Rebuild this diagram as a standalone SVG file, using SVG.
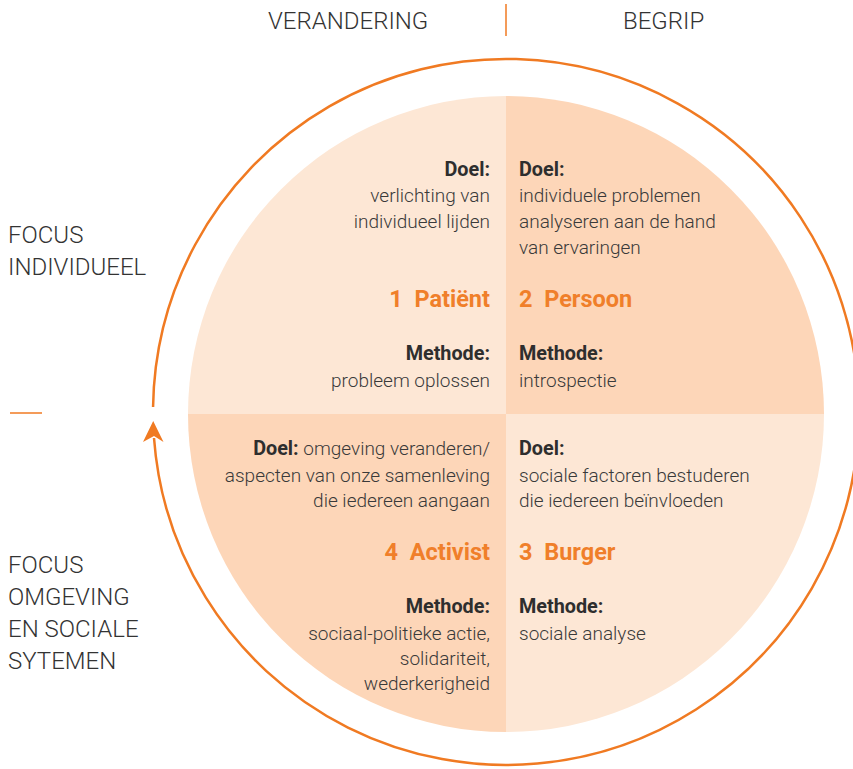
<svg xmlns="http://www.w3.org/2000/svg" width="853" height="769" viewBox="0 0 853 769">
<style>
.t{font-family:Roboto,"Liberation Sans",sans-serif;font-weight:300;fill:#3a3a3a;font-size:19px}
.b{font-weight:700;fill:#2e2e2e;font-size:19.8px}
.h{font-family:Roboto,"Liberation Sans",sans-serif;font-weight:300;fill:#333;font-size:24px}
.ti{font-family:Roboto,"Liberation Sans",sans-serif;font-weight:700;fill:#f07f2a;font-size:23.5px}
.r{text-anchor:end}
.light{fill:#fde7d5}
.dark{fill:#fdd6b8}
.ring{fill:none;stroke:#f07a22;stroke-width:2.5}
.tick{stroke:#f07a22;stroke-width:1.5}
</style>
<rect width="853" height="769" fill="#fff"/>
<g id="headers">
<text class="h" x="268" y="29">VERANDERING</text>
<text class="h" x="623" y="29">BEGRIP</text>
<line class="tick" x1="506" y1="4" x2="506" y2="36"/>
<text class="h" x="8" y="243">FOCUS</text>
<text class="h" x="8" y="275">INDIVIDUEEL</text>
<line class="tick" x1="10" y1="413" x2="42" y2="413"/>
<text class="h" x="8" y="573">FOCUS</text>
<text class="h" x="8" y="605">OMGEVING</text>
<text class="h" x="8" y="637">EN SOCIALE</text>
<text class="h" x="8" y="669">SYTEMEN</text>
</g>
<g id="connectors">
<path class="ring" d="M154,438 A353,353 0 1 0 153.07,407"/>
<path d="M153.2,421 L163.5,442 L154,436 L143,442 Z" fill="#f07a22"/>
</g>
<g id="q1-patient">
<path class="light" d="M506,414 L188,414 A318,318 0 0 1 506,96 Z"/>
<text class="t b r" x="490" y="176">Doel:</text>
<text class="t r" x="490" y="202">verlichting van</text>
<text class="t r" x="490" y="228">individueel lijden</text>
<text class="ti r" x="490" y="307" xml:space="preserve">1  Patiënt</text>
<text class="t b r" x="490" y="360">Methode:</text>
<text class="t r" x="490" y="387">probleem oplossen</text>
</g>
<g id="q2-persoon">
<path class="dark" d="M506,414 L506,96 A318,318 0 0 1 824,414 Z"/>
<text class="t b" x="519" y="176">Doel:</text>
<text class="t" x="519" y="202">individuele problemen</text>
<text class="t" x="519" y="228">analyseren aan de hand</text>
<text class="t" x="519" y="254">van ervaringen</text>
<text class="ti" x="519" y="307" xml:space="preserve">2  Persoon</text>
<text class="t b" x="519" y="360">Methode:</text>
<text class="t" x="519" y="387">introspectie</text>
</g>
<g id="q3-burger">
<path class="light" d="M506,414 L824,414 A318,318 0 0 1 506,732 Z"/>
<text class="t b" x="519" y="455">Doel:</text>
<text class="t" x="519" y="482">sociale factoren bestuderen</text>
<text class="t" x="519" y="507">die iedereen beïnvloeden</text>
<text class="ti" x="519" y="560" xml:space="preserve">3  Burger</text>
<text class="t b" x="519" y="613">Methode:</text>
<text class="t" x="519" y="640">sociale analyse</text>
</g>
<g id="q4-activist">
<path class="dark" d="M506,414 L506,732 A318,318 0 0 1 188,414 Z"/>
<text class="t r" x="490" y="455"><tspan class="b">Doel:</tspan> omgeving veranderen/</text>
<text class="t r" x="490" y="482">aspecten van onze samenleving</text>
<text class="t r" x="490" y="507">die iedereen aangaan</text>
<text class="ti r" x="490" y="560" xml:space="preserve">4  Activist</text>
<text class="t b r" x="490" y="613">Methode:</text>
<text class="t r" x="490" y="640">sociaal-politieke actie,</text>
<text class="t r" x="490" y="665">solidariteit,</text>
<text class="t r" x="490" y="690">wederkerigheid</text>
</g>
</svg>
